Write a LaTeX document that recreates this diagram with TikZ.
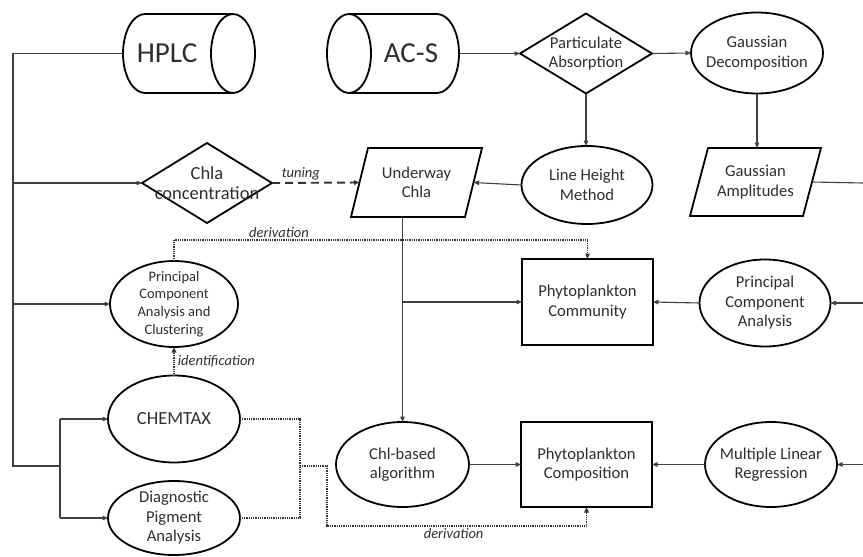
\documentclass[tikz,border=0pt]{standalone}
\usepackage{fontspec}
\setmainfont{Carlito}
\usetikzlibrary{shapes.geometric,arrows.meta,calc}
\begin{document}
\begin{tikzpicture}[x=1pt,y=-1pt,
  shp/.style={draw=black, line width=1.8pt, inner sep=0pt, outer sep=0pt},
  ell/.style={shp, ellipse},
  box/.style={shp, rectangle},
  dia/.style={shp, diamond},
  ghost/.style={rectangle, inner sep=0pt, outer sep=0pt},
  lab/.style={align=center, inner sep=0pt, text=black!82, font=\fontsize{16.6}{19.5}\selectfont},
  conn/.style={line width=1.1pt, draw=black!75},
  arr/.style={conn, -{Triangle[length=5.5pt,width=4.5pt]}},
  dots/.style={line width=1.6pt, draw=black!80, dash pattern=on 1pt off 0.8pt},
  dotarr/.style={dots, -{Triangle[length=5.5pt,width=4.5pt]}},
  elab/.style={font=\itshape\fontsize{14.5}{17}\selectfont, text=black!82, inner sep=2pt}
]
\useasboundingbox (0,0) rectangle (863,557);

% ---------- top row ----------
\node[ghost, minimum width=132, minimum height=79,
  label={[lab,font=\fontsize{29}{35}\selectfont,xshift=-22pt]center:HPLC}] (hplc) at (189,53.5) {};
\draw[shp] (233,14) -- (145,14) .. controls (132.85,14) and (123,31.68) .. (123,53.5)
  .. controls (123,75.32) and (132.85,93) .. (145,93) -- (233,93);
\draw[shp] (233,53.5) ellipse [x radius=22, y radius=39.5];

\node[ghost, minimum width=132, minimum height=79,
  label={[lab,font=\fontsize{29}{35}\selectfont,xshift=18pt]center:AC-S}] (acs) at (393,53.5) {};
\draw[shp] (349,14) -- (437,14) .. controls (449.15,14) and (459,31.68) .. (459,53.5)
  .. controls (459,75.32) and (449.15,93) .. (437,93) -- (349,93);
\draw[shp] (349,53.5) ellipse [x radius=22, y radius=39.5];

\node[dia, minimum width=132, minimum height=80,
  label={[lab]center:Particulate\\Absorption}] (pa) at (586,53.5) {};
\node[ell, minimum width=132, minimum height=81,
  label={[lab]center:Gaussian\\Decomposition}] (gd) at (757,53) {};

% ---------- second row ----------
\node[dia, minimum width=130, minimum height=80,
  label={[lab,font=\fontsize{18.5}{20.5}\selectfont]center:Chla\\concentration}] (cc) at (207,183) {};
\node[ghost, minimum width=131, minimum height=69,
  label={[lab]center:Underway\\Chla}] (uc) at (416.5,182.5) {};
\draw[shp] (uc.south west) -- ($(uc.north west)+(17,0)$) -- (uc.north east)
  -- ($(uc.south east)+(-17,0)$) -- cycle;
\node[ell, minimum width=131, minimum height=78,
  label={[lab]center:Line Height\\Method}] (lhm) at (587,185) {};
\node[ghost, minimum width=131, minimum height=68,
  label={[lab]center:Gaussian\\Amplitudes}] (ga) at (755.5,182) {};
\draw[shp] (ga.south west) -- ($(ga.north west)+(18,0)$) -- (ga.north east)
  -- ($(ga.south east)+(-18,0)$) -- cycle;

% ---------- third row ----------
\node[ell, minimum width=128, minimum height=86,
  label={[lab,font=\fontsize{14.5}{17.7}\selectfont]center:Principal\\Component\\Analysis and\\Clustering}] (pcac) at (174,304) {};
\node[box, minimum width=131, minimum height=86,
  label={[lab]center:Phytoplankton\\Community}] (pcom) at (587.5,302) {};
\node[ell, minimum width=131, minimum height=87,
  label={[lab]center:Principal\\Component\\Analysis}] (pca) at (765,303) {};

% ---------- bottom rows ----------
\node[ell, minimum width=132, minimum height=87,
  label={[lab,font=\fontsize{18.5}{22}\selectfont]center:CHEMTAX}] (chemtax) at (174,419) {};
\node[ell, minimum width=132, minimum height=74,
  label={[lab]center:Diagnostic\\Pigment\\Analysis}] (dpa) at (174,518) {};
\node[ell, minimum width=133, minimum height=85,
  label={[lab]center:Chl-based\\algorithm}] (cb) at (402.5,464.5) {};
\node[box, minimum width=131, minimum height=85,
  label={[lab]center:Phytoplankton\\Composition}] (pcomp) at (586.5,464.5) {};
\node[ell, minimum width=132, minimum height=85,
  label={[lab]center:Multiple Linear\\Regression}] (mlr) at (771,464.5) {};

% ---------- helper coordinates ----------
\coordinate (busTop) at (13,53.5);
\coordinate (busBot) at (13,466);
\coordinate (fork) at (60,466);
\coordinate (edgeA) at (863,183);
\coordinate (edgeB) at (863,303);
\coordinate (edgeC) at (863,464.5);
\coordinate (dTopL) at (174,240);
\coordinate (dTopR) at (587.5,240);
\coordinate (brR) at (300,466);
\coordinate (brD) at (327,466);
\coordinate (brB) at (327,526);
\coordinate (brE) at (586.5,526);

% ---------- left bus ----------
\draw[conn] (hplc.west) -- (busTop) -- (busBot) -- (fork);
\draw[arr] (busTop |- cc.west) -- (cc.west);
\draw[arr] (busTop |- pcac.west) -- (pcac.west);
\draw[conn] (fork |- chemtax.west) -- (fork |- dpa.west);
\draw[arr] (fork |- chemtax.west) -- (chemtax.west);
\draw[arr] (fork |- dpa.west) -- (dpa.west);

% ---------- top flow ----------
\draw[arr] (acs.east) -- (pa.west);
\draw[arr] (pa.east) -- (gd.west);
\draw[arr] (gd.south) -- (gd.south |- ga.north);
\draw[conn] ($(ga.east)+(-9,0)$) -- (edgeA);
\draw[arr] (pa.south) -- (pa.south |- lhm.north);
\draw[arr] (lhm.west) -- ($(uc.east)+(-8.5,0)$);
\draw[line width=1.9pt, draw=black!80, dash pattern=on 8pt off 5pt, -{Triangle[length=5.5pt,width=4.5pt]}]
  (cc.east) -- node[elab, above, pos=0.33] {tuning} ($(uc.west)+(8.5,0)$);

% ---------- middle ----------
\draw[arr] (cb.north |- uc.south) -- (cb.north);
\draw[arr] (cb.north |- pcom.west) -- (pcom.west);
\draw[arr] (pca.west) -- (pcom.east);
\draw[arr] (edgeB) -- (pca.east);
\draw[dotarr] (pcac.north) -- (dTopL) -- node[elab, above, pos=0.254] {derivation} (dTopR) -- (pcom.north);
\draw[dotarr] (chemtax.north) -- node[elab, right, inner sep=3pt] {identification} (pcac.south);

% ---------- bottom ----------
\draw[arr] (cb.east) -- (pcomp.west);
\draw[arr] (mlr.west) -- (pcomp.east);
\draw[arr] (edgeC) -- (mlr.east);
\draw[dots] (chemtax.east) -- (brR |- chemtax.east) -- (brR |- dpa.east) -- (dpa.east);
\draw[dotarr] (brR) -- (brD) -- (brB) -- node[elab, below, pos=0.488] {derivation} (brE) -- (pcomp.south);
\end{tikzpicture}
\end{document}
